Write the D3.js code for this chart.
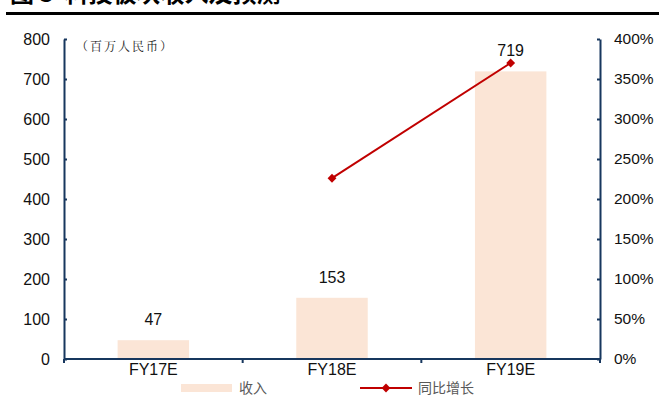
<!DOCTYPE html>
<html>
<head>
<meta charset="utf-8">
<script src="https://cdn.jsdelivr.net/npm/d3@7"></script>
<style>
  body { margin: 0; background: #fff; }
  text { font-family: "Liberation Sans", Arial, sans-serif; }
</style>
</head>
<body>
<svg id="chart" width="659" height="397"></svg>
<script>
// data
var categories = ["FY17E", "FY18E", "FY19E"]
var revenue = [47, 153, 719]
var growth = [null, 226, 370]   // 同比增长 %
var leftTicks = [0, 100, 200, 300, 400, 500, 600, 700, 800]
var rightTicks = [0, 50, 100, 150, 200, 250, 300, 350, 400]

var axisColor = "#17375e"
var svg = d3.select("#chart")

var x0 = 64, x1 = 600, yTop = 39, yBot = 359

// title, cut off at the top like the source
svg.append("text")
    .attr("x", 10).attr("y", 2)
    .attr("font-size", 24).attr("font-weight", "bold")
    .style("font-family", "'Noto Sans CJK SC', sans-serif")
    .style("white-space", "pre")
    .text("图 3  科技板块收入及预测")
svg.append("rect").attr("x", 6).attr("y", 12).attr("width", 653).attr("height", 3).attr("fill", "#000")

var x = d3.scaleBand().domain(categories).range([x0, x1]).paddingInner(0).paddingOuter(0)
var yL = d3.scaleLinear().domain([0, 800]).range([yBot, yTop])
var yR = d3.scaleLinear().domain([0, 400]).range([yBot, yTop])

// bars
svg.selectAll("rect.bar").data(revenue).enter().append("rect")
    .attr("class", "bar")
    .attr("x", function(d, i) { return x(categories[i]) + x.bandwidth() * 0.3 })
    .attr("width", x.bandwidth() * 0.4)
    .attr("y", function(d) { return yL(d) })
    .attr("height", function(d) { return yBot - yL(d) })
    .attr("fill", "#fbe5d6")

svg.selectAll("text.lbl").data(revenue).enter().append("text")
    .attr("class", "lbl")
    .attr("x", function(d, i) { return x(categories[i]) + x.bandwidth() / 2 })
    .attr("y", function(d) { return yL(d) - 15 })
    .attr("text-anchor", "middle").attr("font-size", 16).attr("fill", "#111")
    .text(function(d) { return d })

// axes
var gl = svg.append("g").attr("transform", "translate(" + x0 + ",0)")
    .call(d3.axisLeft(yL).tickValues(leftTicks).tickSizeInner(-3).tickSizeOuter(0).tickPadding(14))
var gr = svg.append("g").attr("transform", "translate(" + x1 + ",0)")
    .call(d3.axisRight(yR).tickValues(rightTicks).tickSizeInner(-3).tickSizeOuter(0).tickPadding(14)
        .tickFormat(function(d) { return d + "%" }))
var gb = svg.append("g").attr("transform", "translate(0," + yBot + ")")
    .call(d3.axisBottom(x).tickSize(0).tickPadding(6))

// category boundary ticks
svg.selectAll("line.bt").data([x0, x0 + x.bandwidth(), x0 + 2 * x.bandwidth(), x1]).enter().append("line")
    .attr("x1", function(d) { return d }).attr("x2", function(d) { return d })
    .attr("y1", yBot).attr("y2", yBot + 4)
    .attr("stroke", axisColor).attr("stroke-width", 2)

;[gl, gr, gb].forEach(function(g) {
    g.select(".domain").attr("stroke", axisColor).attr("stroke-width", 2)
    g.selectAll(".tick line").attr("stroke", axisColor).attr("stroke-width", 2)
    g.selectAll(".tick text").attr("font-size", 16).attr("fill", "#111")
        .style("font-family", "'Liberation Sans', Arial, sans-serif")
})
gr.selectAll(".tick text").attr("font-size", 15.5)
gb.select(".domain").attr("d", "M" + x0 + ",0H" + x1)
gb.selectAll(".tick text").attr("dy", "0.71em").attr("y", 5)

// unit
svg.append("text").attr("x", 76).attr("y", 51)
    .attr("font-size", 12).attr("letter-spacing", 2).attr("fill", "#222")
    .style("font-family", "'Noto Serif CJK SC', 'Noto Sans CJK SC', serif")
    .text("（百万人民币）")

// growth line
var pts = growth.map(function(d, i) { return { c: categories[i], v: d } }).filter(function(d) { return d.v != null })
var line = d3.line()
    .x(function(d) { return x(d.c) + x.bandwidth() / 2 })
    .y(function(d) { return yR(d.v) })
svg.append("path").datum(pts).attr("d", line)
    .attr("fill", "none").attr("stroke", "#c00000").attr("stroke-width", 2)
var diamond = d3.symbol().type(d3.symbolDiamond2).size(50)
svg.selectAll("path.mk").data(pts).enter().append("path")
    .attr("class", "mk").attr("d", diamond)
    .attr("transform", function(d) { return "translate(" + (x(d.c) + x.bandwidth() / 2) + "," + yR(d.v) + ")" })
    .attr("fill", "#c00000")

// legend
var lg = svg.append("g")
lg.append("rect").attr("x", 181).attr("y", 384).attr("width", 51).attr("height", 8).attr("fill", "#fbe5d6")
lg.append("text").attr("x", 239).attr("y", 393).attr("font-size", 14).attr("fill", "#595959")
    .style("font-family", "'Noto Sans CJK SC', sans-serif").text("收入")
lg.append("line").attr("x1", 360).attr("x2", 412).attr("y1", 388).attr("y2", 388)
    .attr("stroke", "#c00000").attr("stroke-width", 2)
lg.append("path").attr("d", diamond).attr("transform", "translate(386,388)").attr("fill", "#c00000")
lg.append("text").attr("x", 418).attr("y", 393).attr("font-size", 14).attr("fill", "#595959")
    .style("font-family", "'Noto Sans CJK SC', sans-serif").text("同比增长")
</script>
</body>
</html>
